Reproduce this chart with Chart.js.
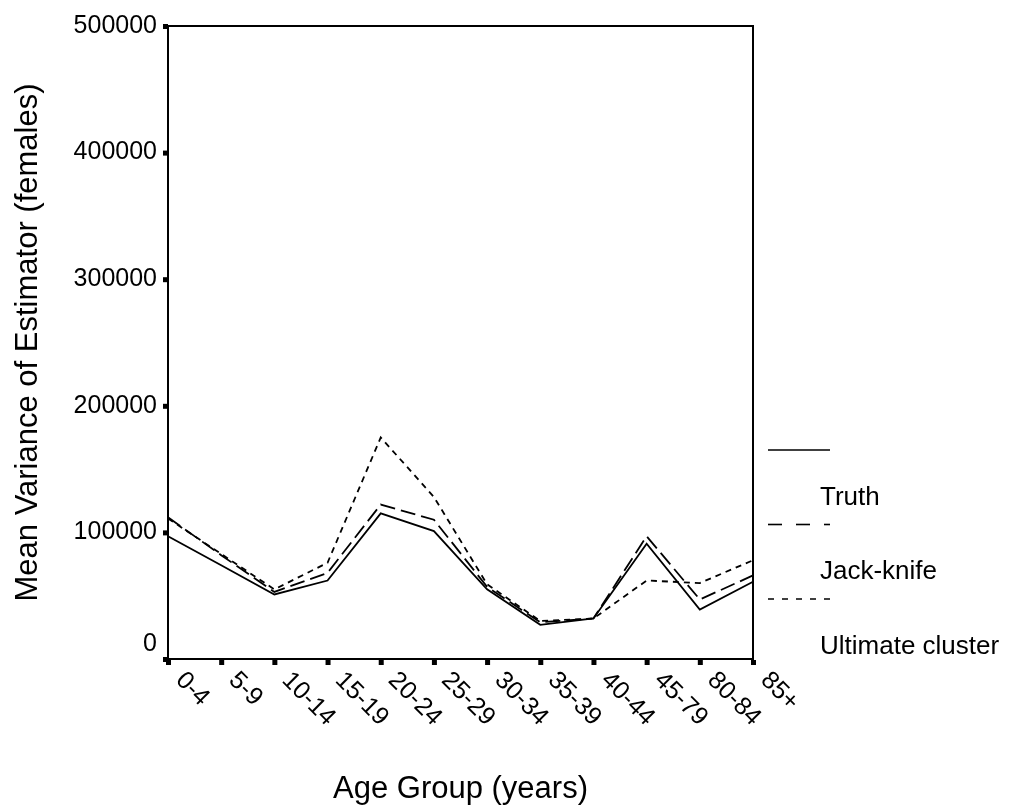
<!DOCTYPE html>
<html>
<head>
<meta charset="utf-8">
<script src="https://cdn.jsdelivr.net/npm/chart.js@4.4.1/dist/chart.umd.min.js"></script>
<style>
  html, body { margin: 0; padding: 0; background: #ffffff; }
  canvas { display: block; }
</style>
</head>
<body>
<canvas id="chart" width="1010" height="809"></canvas>
<script>
// Age groups on the horizontal axis
const ageGroups = ['0-4', '5-9', '10-14', '15-19', '20-24', '25-29', '30-34', '35-39', '40-44', '45-79', '80-84', '85+'];

// Mean variance of the estimator (females) per age group
const truth           = [97000, 74000, 51000, 62000, 115000, 101000, 55000, 27000, 32000, 91000, 39000, 61000];
const jackKnife       = [112000, 82000, 53000, 68000, 122000, 110000, 57000, 29000, 32000, 97000, 47000, 66000];
const ultimateCluster = [111000, 83000, 55000, 76000, 175000, 128000, 59000, 30000, 32000, 62000, 60000, 78000];

// Vertical axis range and step
const yMin = 0;
const yMax = 500000;
const yStep = 100000;

const FONT = "'Liberation Sans', Arial, Helvetica, sans-serif";

// Frame, square tick marks, slanted category labels and a stacked legend
const framePlugin = {
  id: 'frame',
  afterDraw(chart) {
    const { ctx, chartArea: a, scales: { x, y } } = chart;
    ctx.save();

    // Box around the plot area
    ctx.strokeStyle = '#000';
    ctx.lineWidth = 2;
    ctx.strokeRect(a.left, a.top, a.right - a.left, a.bottom - a.top);

    // Square tick marks
    ctx.fillStyle = '#000';
    y.ticks.forEach(t => {
      const py = y.getPixelForValue(t.value);
      ctx.fillRect(a.left - 5, py - 2, 5, 5);
    });
    x.ticks.forEach((t, i) => {
      const px = x.getPixelForValue(i);
      ctx.fillRect(px - 2, a.bottom + 1, 5, 5);
    });

    // Category labels slanted downwards to the right
    ctx.font = '25px ' + FONT;
    ctx.textAlign = 'left';
    ctx.textBaseline = 'middle';
    chart.data.labels.forEach((lab, i) => {
      const px = x.getPixelForValue(i);
      ctx.save();
      ctx.translate(px + 11.5, a.bottom + 17.5);
      ctx.rotate(Math.PI / 4);
      ctx.fillText(lab, 0, 0);
      ctx.restore();
    });

    // Legend: line sample above each series name
    ctx.font = '26px ' + FONT;
    ctx.textBaseline = 'alphabetic';
    chart.data.datasets.forEach((ds, i) => {
      const ly = 450 + i * 74.5;
      ctx.beginPath();
      ctx.setLineDash(ds.legendDash || []);
      ctx.lineWidth = 1.6;
      ctx.moveTo(768, ly);
      ctx.lineTo(830, ly);
      ctx.stroke();
      ctx.setLineDash([]);
      ctx.fillText(ds.label, 820, ly + 54.5);
    });

    ctx.restore();
  }
};

new Chart(document.getElementById('chart'), {
  type: 'line',
  data: {
    labels: ageGroups,
    datasets: [
      { label: 'Truth', data: truth, borderColor: '#000', borderWidth: 1.8,
        borderDash: [], legendDash: [], pointRadius: 0, fill: false, tension: 0 },
      { label: 'Jack-knife', data: jackKnife, borderColor: '#000', borderWidth: 1.8,
        borderDash: [15, 6], legendDash: [14, 14], pointRadius: 0, fill: false, tension: 0 },
      { label: 'Ultimate cluster', data: ultimateCluster, borderColor: '#000', borderWidth: 1.8,
        borderDash: [6, 5], legendDash: [6, 8], pointRadius: 0, fill: false, tension: 0 }
    ]
  },
  options: {
    responsive: false,
    animation: false,
    devicePixelRatio: 1,
    layout: { padding: { left: 0, top: 23, right: 257, bottom: 0 } },
    plugins: { legend: { display: false }, tooltip: { enabled: false } },
    scales: {
      x: {
        type: 'category',
        offset: false,
        grid: { display: false, drawTicks: false },
        border: { display: false },
        ticks: { display: false },
        title: {
          display: true,
          text: 'Age Group (years)',
          color: '#000',
          font: { family: FONT, size: 31 },
          padding: { top: 0, bottom: 1 }
        },
        afterFit(scale) { scale.height = 150; }
      },
      y: {
        min: yMin,
        max: yMax,
        grid: { display: false, drawTicks: false },
        border: { display: false },
        ticks: {
          stepSize: yStep,
          color: '#000',
          padding: 11,
          font: { family: FONT, size: 25 },
          callback: v => (v === 0 ? ['0', ''] : String(v))
        },
        title: {
          display: true,
          text: 'Mean Variance of Estimator (females)',
          color: '#000',
          font: { family: FONT, size: 31 },
          padding: { top: 10, bottom: 0 }
        },
        afterFit(scale) { scale.width = 168; }
      }
    }
  },
  plugins: [framePlugin]
});
</script>
</body>
</html>
